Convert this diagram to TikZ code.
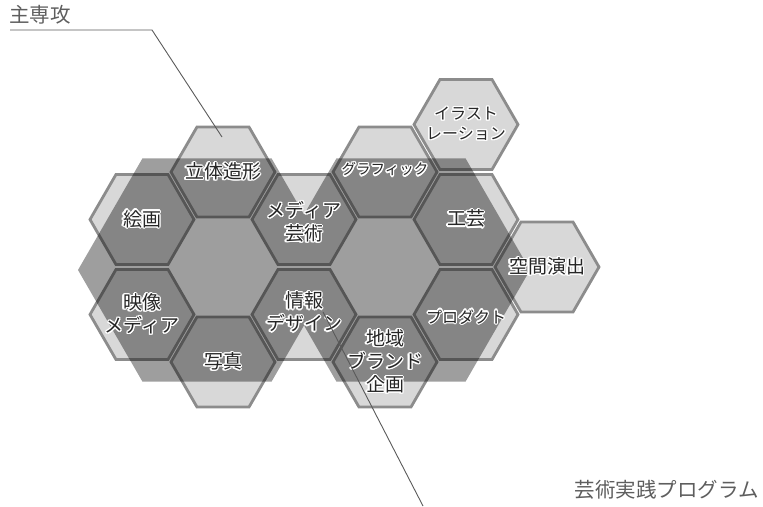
\documentclass[tikz,border=0pt]{standalone}
\usepackage{fontspec}
\usepackage{contour}
\usetikzlibrary{shapes.geometric,positioning,calc}
\newfontfamily\jp{Noto Sans CJK JP}
\contourlength{1.3pt}
\definecolor{hexfill}{HTML}{D8D8D8}
\definecolor{hexline}{HTML}{8C8C8C}
\definecolor{txt}{HTML}{262626}
\definecolor{captxt}{HTML}{5E5E5E}
\definecolor{leadline}{HTML}{5A5A5A}
\newcommand\wt[1]{\contour{white}{#1}}
\tikzset{
  hexa/.style={regular polygon, regular polygon sides=6, minimum size=104pt, inner sep=0pt, draw=hexline, line width=2.8pt, fill=hexfill},
  bighex/.style={fill=black, opacity=0.38},
  lbl/.style={font=\jp\fontsize{19}{23}\selectfont, text=txt, align=center, inner sep=0pt},
  lblmid/.style={lbl, font=\jp\fontsize{16}{20}\selectfont},
  lblsm/.style={lbl, font=\jp\fontsize{14.5}{18}\selectfont},
  caption/.style={font=\jp\fontsize{20.5}{24}\selectfont, text=captxt, inner sep=0pt},
  leader/.style={draw=leadline, line width=0.9pt}
}

\begin{document}
\begin{tikzpicture}[x=1pt,y=-1pt]
        \useasboundingbox (0,0) rectangle (763,506);
        % small hexagons
        \node[hexa] (zokei) at (223,172) {};
        \node[hexa] (kaiga) at (142,219.5) {};
        \node[hexa] (mediagei) at (304,219.5) {};
        \node[hexa] (eizo) at (142,314.5) {};
        \node[hexa] (joho) at (304,314.5) {};
        \node[hexa] (shashin) at (223,362) {};
        \node[hexa] (graphic) at (385,172) {};
        \node[hexa] (illust) at (466,124.5) {};
        \node[hexa] (kogei) at (466,219.5) {};
        \node[hexa] (kukan) at (547,267) {};
        \node[hexa] (product) at (466,314.5) {};
        \node[hexa] (chiiki) at (385,362) {};
        % two big hexagons
        \fill[bighex] (207,270) ++(180:129) -- ++(60:129) -- ++(0:129) -- ++(-60:129) -- ++(-120:129) -- ++(180:129) -- cycle
                      (401,270) ++(180:129) -- ++(60:129) -- ++(0:129) -- ++(-60:129) -- ++(-120:129) -- ++(180:129) -- cycle;
        % labels
        \node[lbl] (t-zokei) at (zokei) {\wt{立体造形}};
        \node[lbl] (t-kaiga) at (kaiga) {\wt{絵画}};
        \node[lbl] (t-mediagei) at ($(mediagei)+(0,3)$) {\wt{メディア}\\\wt{芸術}};
        \node[lbl] (t-eizo) at (eizo) {\wt{映像}\\\wt{メディア}};
        \node[lbl] (t-joho) at ($(joho)+(0,-2)$) {\wt{情報}\\\wt{デザイン}};
        \node[lbl] (t-shashin) at (shashin) {\wt{写真}};
        \node[lblsm] (t-graphic) at ($(graphic)+(0,-2)$) {\wt{グラフィック}};
        \node[lblmid] (t-illust) at (illust) {\wt{イラスト}\\\wt{レーション}};
        \node[lbl] (t-kogei) at (kogei) {\wt{工芸}};
        \node[lbl] (t-kukan) at (kukan) {\wt{空間演出}};
        \node[lblmid] (t-product) at ($(product)+(0,3)$) {\wt{プロダクト}};
        \node[lbl] (t-chiiki) at (chiiki) {\wt{地域}\\\wt{ブランド}\\\wt{企画}};
        % captions and leader lines
        \node[caption, anchor=west] (shusenko) at (9,15) {主専攻};
        \node[caption, anchor=east] (program) at (759,490) {芸術実践プログラム};
        \coordinate (u0) at (10,30);
        \coordinate (u1) at (152,30);
        \coordinate (u2) at (222,137);
        \draw[leader] (u0) -- (u1) -- (u2);
        \coordinate (d0) at (323,312);
        \coordinate (d1) at (423,506);
        \draw[leader] (d0) -- (d1);
\end{tikzpicture}
\end{document}
